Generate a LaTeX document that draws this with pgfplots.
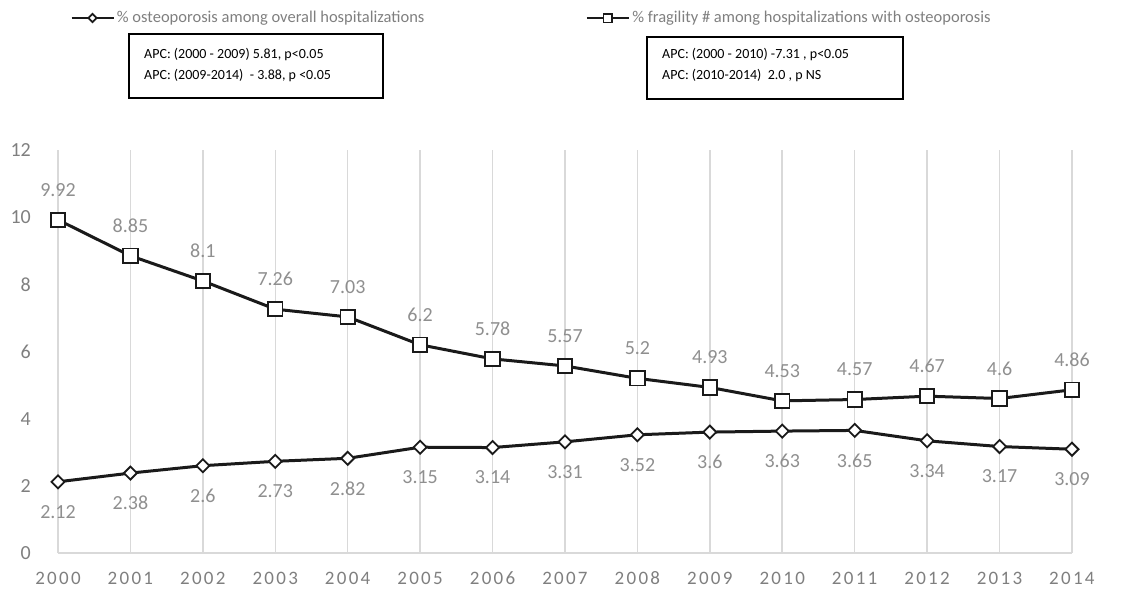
\documentclass[border=0pt]{standalone}
\usepackage{fontspec}
\setmainfont{Carlito}
\usepackage{pgfplots}
\pgfplotsset{compat=1.18}
\definecolor{tickgray}{HTML}{7F7F7F}
\definecolor{labgray}{HTML}{8F8F8F}
\definecolor{gridgray}{HTML}{D9D9D9}
\definecolor{linecol}{HTML}{1A1A1A}
\begin{document}
\begin{tikzpicture}[x=1pt,y=1pt]
\useasboundingbox (0,0) rectangle (1131,589);
\begin{axis}[
  at={(58pt,36pt)}, anchor=south west,
  scale only axis, width=1014pt, height=403pt,
  xmin=2000, xmax=2014, ymin=0, ymax=12,
  axis x line*=bottom, axis y line*=left,
  y axis line style={draw=none},
  x axis line style={gridgray, line width=1.5pt},
  xtick={2000,...,2014}, ytick={0,2,...,12},
  major tick length=0pt,
  xmajorgrids, grid style={gridgray, line width=1.5pt},
  /pgf/number format/assume math mode=true,
  /pgf/number format/1000 sep={},
  xticklabel style={font=\fontsize{19}{19}\selectfont\addfontfeatures{LetterSpace=12}, text=tickgray, inner sep=0pt, anchor=base},
  xticklabel shift=31pt,
  yticklabel style={font=\fontsize{20}{20}\selectfont, text=tickgray, inner sep=0pt, anchor=east},
  yticklabel shift=27pt,
  legend columns=2,
  legend style={at={(0.0118,1.3275)}, anchor=west, draw=none, fill=none,
    inner sep=0pt, font=\fontsize{16.5}{16.5}\selectfont, text=tickgray,
    /tikz/every even column/.append style={column sep=159pt},
    nodes={inner xsep=2pt}},
  clip=false,
]
\addplot[linecol, line width=3pt, mark=square*, mark size=4.6pt,
  mark options={fill=white, draw=linecol, line width=1.8pt, rotate=45},
  legend image code/.code={\draw[mark repeat=2, mark phase=2, line width=2.8pt, mark size=2.9pt]
     plot coordinates {(0pt,0pt) (21pt,0pt) (42pt,0pt)};},
  point meta=explicit symbolic, nodes near coords,
  every node near coord/.style={anchor=center, yshift=-30pt, text=labgray, font=\fontsize{20}{20}\selectfont}]
coordinates {
(2000,2.12) [2.12]
(2001,2.38) [2.38]
(2002,2.60) [2.6]
(2003,2.73) [2.73]
(2004,2.82) [2.82]
(2005,3.15) [3.15]
(2006,3.14) [3.14]
(2007,3.31) [3.31]
(2008,3.52) [3.52]
(2009,3.60) [3.6]
(2010,3.63) [3.63]
(2011,3.65) [3.65]
(2012,3.34) [3.34]
(2013,3.17) [3.17]
(2014,3.09) [3.09]
};
\addlegendentry{\% osteoporosis among overall hospitalizations}
\addplot[linecol, line width=3pt, mark=square*, mark size=7.2pt,
  mark options={fill=white, draw=linecol, line width=1.8pt},
  legend image code/.code={\draw[mark repeat=2, mark phase=2, line width=2.8pt, mark size=4.4pt]
     plot coordinates {(0pt,0pt) (21pt,0pt) (42pt,0pt)};},
  point meta=explicit symbolic, nodes near coords,
  every node near coord/.style={anchor=center, yshift=30pt, text=labgray, font=\fontsize{20}{20}\selectfont}]
coordinates {
(2000,9.92) [9.92]
(2001,8.85) [8.85]
(2002,8.10) [8.1]
(2003,7.26) [7.26]
(2004,7.03) [7.03]
(2005,6.20) [6.2]
(2006,5.78) [5.78]
(2007,5.57) [5.57]
(2008,5.20) [5.2]
(2009,4.93) [4.93]
(2010,4.53) [4.53]
(2011,4.57) [4.57]
(2012,4.67) [4.67]
(2013,4.60) [4.6]
(2014,4.86) [4.86]
};
\addlegendentry{\% fragility \# among hospitalizations with osteoporosis}
\end{axis}
\draw[black, line width=1.6pt] (129,491) rectangle (383,555);
\node[anchor=west, inner sep=0pt, font=\fontsize{14}{14}\selectfont] at (144,534) {APC: (2000 - 2009) 5.81, p<0.05};
\node[anchor=west, inner sep=0pt, font=\fontsize{14}{14}\selectfont] at (144,513) {APC: (2009-2014)\ \ - 3.88, p <0.05};
\draw[black, line width=1.6pt] (647,490) rectangle (903,552);
\node[anchor=west, inner sep=0pt, font=\fontsize{14}{14}\selectfont] at (662,534) {APC: (2000 - 2010) -7.31 , p<0.05};
\node[anchor=west, inner sep=0pt, font=\fontsize{14}{14}\selectfont] at (662,513) {APC: (2010-2014)\ \ 2.0 , p NS};
\end{tikzpicture}
\end{document}
